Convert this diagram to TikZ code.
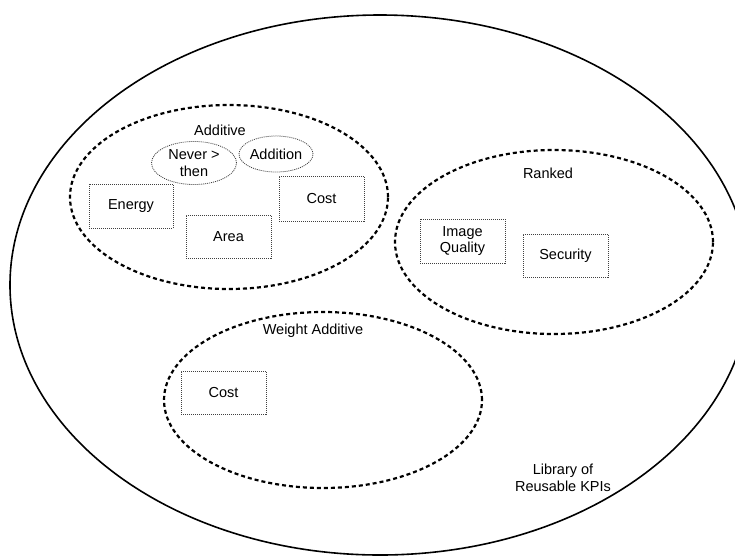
\documentclass[tikz,border=0pt]{standalone}
\usepackage{fontspec}
\setmainfont{Liberation Sans}
\usetikzlibrary{shapes.geometric}
\begin{document}
\begin{tikzpicture}[x=1pt,y=-1pt,
  lbl/.style={font=\fontsize{14.5}{16.5}\selectfont, align=center, inner sep=0},
  group/.style={draw, ellipse, line width=2.2pt, dash pattern=on 4pt off 3pt, inner sep=0},
  kpi/.style={draw=black!75, line width=0.8pt, dash pattern=on 1pt off 1pt, font=\fontsize{14.5}{16.5}\selectfont, align=center, inner sep=0},
  tag/.style={draw=black!75, ellipse, line width=0.8pt, dash pattern=on 1pt off 1pt, font=\fontsize{14.5}{16.5}\selectfont, align=center, inner sep=0}]
\useasboundingbox (0,0) rectangle (735,555);
\clip (0,0) rectangle (735,555);
% library
\node[draw, ellipse, line width=1.6pt, minimum width=740pt, minimum height=540pt, inner sep=0] (lib) at (380,285) {};
\node[lbl] (libtxt) at (563,478) {Library of\\Reusable KPIs};
% Additive
\node[group, minimum width=318pt, minimum height=184pt] (add) at (229,197) {};
\node[lbl] (addtxt) at (220,130) {Additive};
\node[tag, minimum width=85pt, minimum height=43pt] (never) at (194,163) {Never >\\then};
\node[tag, minimum width=72pt, minimum height=36pt] (addition) at (276,154) {Addition};
\node[kpi, minimum width=84pt, minimum height=44pt] (energy) at (131,206) {Energy};
\node[kpi, minimum width=85pt, minimum height=43pt] (area) at (228.5,236.5) {Area};
\node[kpi, minimum width=85pt, minimum height=45pt] (cost1) at (321.5,198.5) {Cost};
% Ranked
\node[group, minimum width=318pt, minimum height=184pt] (ranked) at (554,242) {};
\node[lbl] (rankedtxt) at (548,173) {Ranked};
\node[kpi, minimum width=85pt, minimum height=44pt] (image) at (462.5,241) {Image\\Quality};
\node[kpi, minimum width=85pt, minimum height=43pt] (security) at (565.5,255.5) {Security};
% Weight Additive
\node[group, minimum width=318pt, minimum height=176pt] (wadd) at (323,400) {};
\node[lbl] (waddtxt) at (313,331) {Weight Additive};
\node[kpi, minimum width=85pt, minimum height=43pt] (cost2) at (223.5,392.5) {Cost};
\end{tikzpicture}
\end{document}
